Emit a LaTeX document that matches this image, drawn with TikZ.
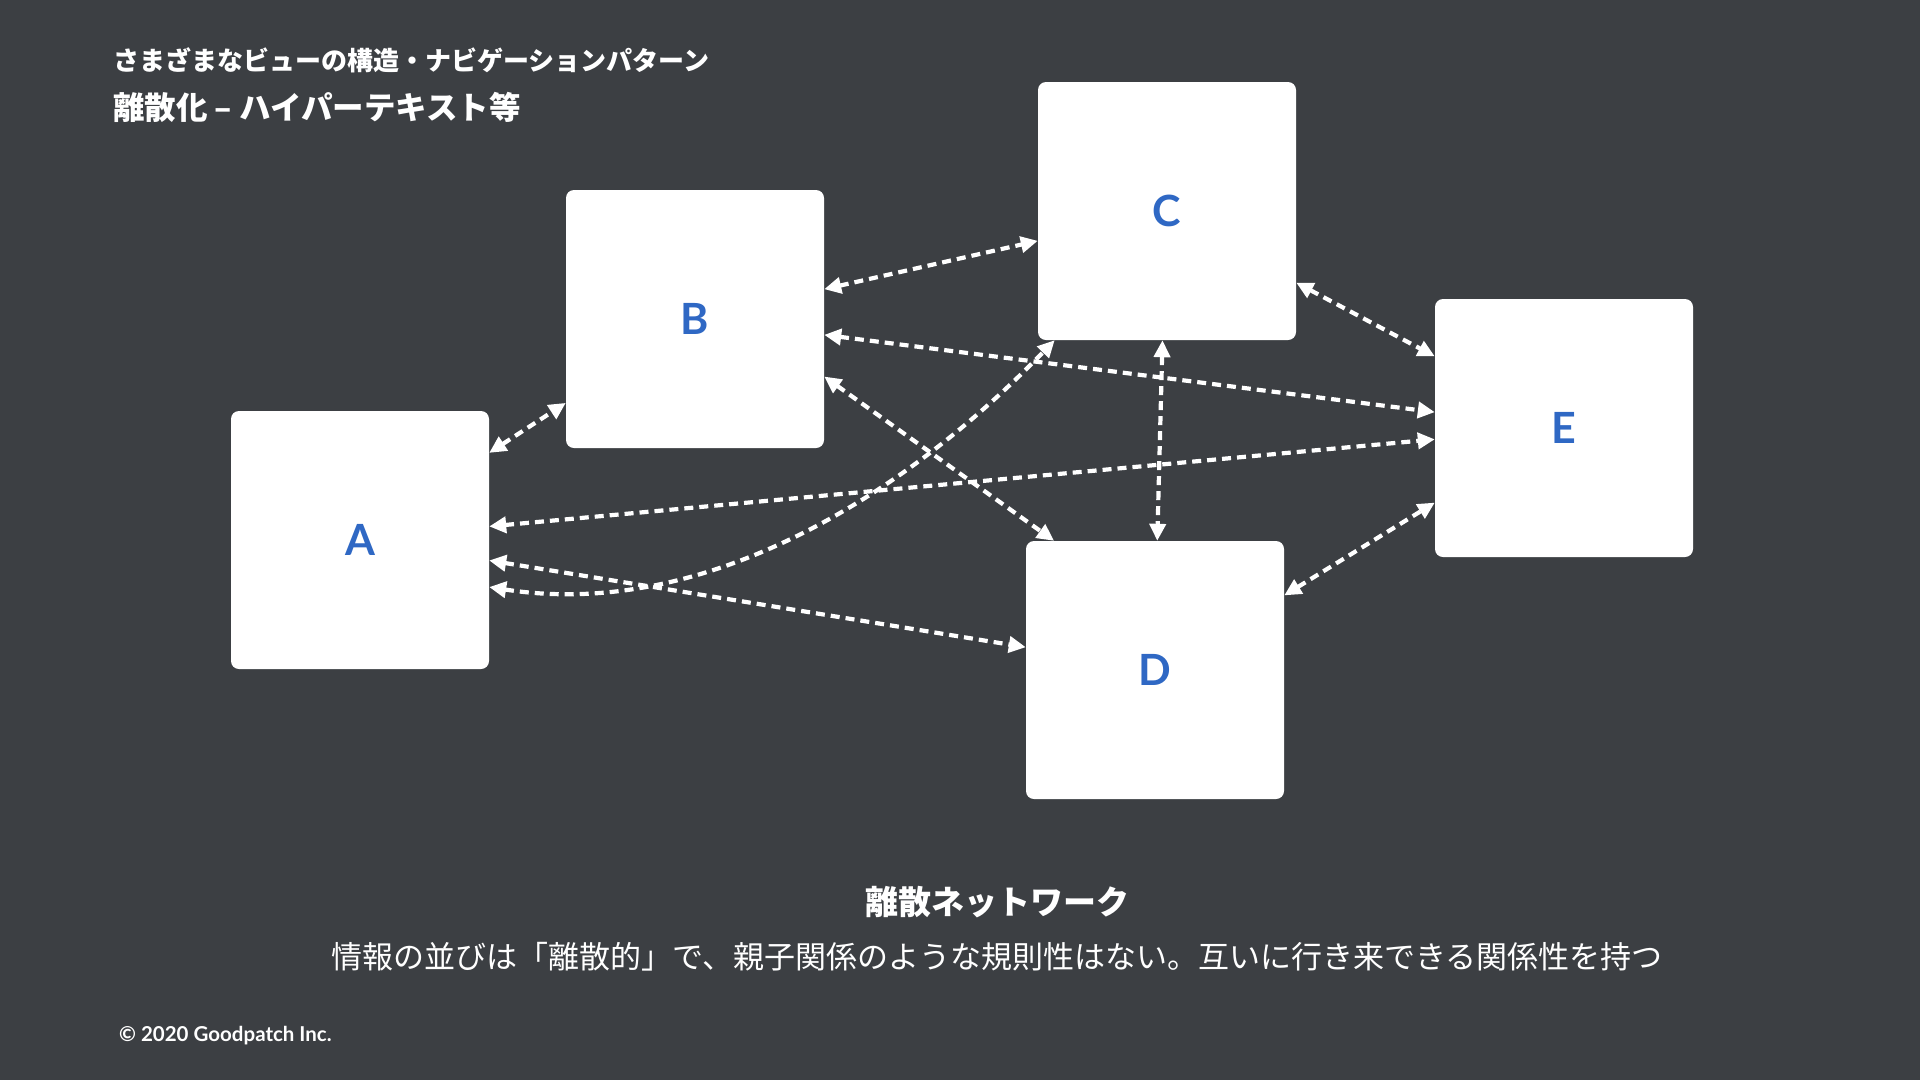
\documentclass[tikz,border=0pt]{standalone}
\usepackage{fontspec}
\usetikzlibrary{arrows.meta}
\newfontfamily\jpfont{Noto Sans CJK JP}
\newfontfamily\latinfont{Lato}
\definecolor{slate}{HTML}{3C3F43}
\definecolor{letterblue}{HTML}{2F68C4}
\begin{document}
\begin{tikzpicture}[x=1pt,y=-1pt,>={Triangle[length=17pt,width=16pt]},line join=round,
	card/.style={fill=white,rounded corners=8pt,minimum size=258pt,inner sep=0pt,text=letterblue,font=\latinfont\bfseries\fontsize{43}{43}\selectfont},
	link/.style={<->,white,line width=4.2pt,dash pattern=on 9pt off 6pt},
	lbl/.style={text=white,inner sep=0pt}]
	\fill[slate] (0,0) rectangle (1920,1080);
	% headings
	\node[lbl,anchor=west,font=\jpfont\bfseries\fontsize{26}{26}\selectfont] (head) at (113,60) {さまざまなビューの構造・ナビゲーションパターン};
	\node[lbl,anchor=west,font=\jpfont\bfseries\fontsize{31.5}{32}\selectfont] (title) at (113,107) {離散化 – ハイパーテキスト等};
	% pages
	\node[card] (A) at (360,540) {A};
	\node[card] (B) at (695,319) {B};
	\node[card] (C) at (1167,211) {C};
	\node[card] (D) at (1155,670) {D};
	\node[card] (E) at (1564,428) {E};
	% links
	\draw[link] (A.34) -- (B.213.5);
	\draw[link] (B.13.5) -- (C.193);
	\draw[link] (B.-7.5) -- (E.173);
	\draw[link] (B.-24.2) -- (D.128);
	\draw[link] (C.-29) -- (E.151);
	\draw[link] (C.-92) -- (D.89);
	\draw[link] (A.6) -- (E.185);
	\draw[link] (A.-20.4) .. controls (700,620) and (900,500) .. (C.229);
	\draw[link] (A.-9.8) -- (D.170);
	\draw[link] (D.30.6) -- (E.210.5);
	% caption
	\node[lbl,font=\jpfont\bfseries\fontsize{33}{33}\selectfont] (caption) at (997,902) {離散ネットワーク};
	\node[lbl,font=\jpfont\fontsize{31}{31}\selectfont] (note) at (997,957) {情報の並びは「離散的」で、親子関係のような規則性はない。互いに行き来できる関係性を持つ};
	\node[lbl,anchor=west,font=\latinfont\bfseries\fontsize{20.5}{21}\selectfont] (copy) at (119,1036) {© 2020 Goodpatch Inc.};
\end{tikzpicture}
\end{document}
